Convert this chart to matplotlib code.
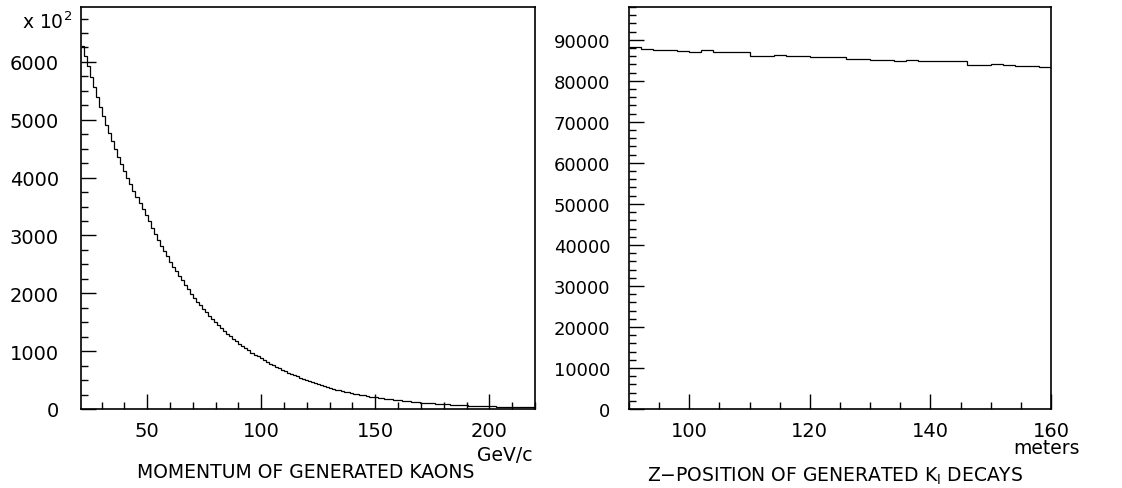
import numpy as np
import matplotlib
matplotlib.use("Agg")
import matplotlib.pyplot as plt
from matplotlib.ticker import MultipleLocator

plt.rcParams["font.family"] = ["DejaVu Sans"]

# momentum histogram (counts shown in units of 10^2), 150 bins from 21 to 220 GeV/c
p_range = (21, 220)
p_nbins = 150
kaon_counts = [
    6280, 6110, 5930, 5740, 5560, 5390, 5220, 5060, 4904,
    4763, 4626, 4493, 4364, 4238, 4116, 3998, 3883, 3771, 3662, 3557, 3455, 3355,
    3242, 3132, 3026, 2924, 2825, 2730, 2638, 2549, 2463, 2380, 2299, 2222,
    2144, 2069, 1996, 1926, 1858, 1793, 1730, 1669, 1610, 1554,
    1499, 1447, 1396, 1347, 1299, 1254, 1210, 1167, 1126, 1087,
    1049, 1012, 976, 942, 909, 877,
    845, 814, 785, 756, 729, 702, 676, 652, 628, 605, 583, 562, 541,
    520, 500, 480, 461, 443, 426, 409, 393, 378, 363,
    349, 335, 322, 310, 297, 286, 275, 264, 254, 244,
    234, 225, 216, 208,
    200, 192, 185, 178, 171, 165, 158, 152, 147, 141,
    136, 130, 125, 121, 116, 112, 107, 103, 99, 96,
    92, 88, 85, 82, 79, 76, 73, 70, 67, 65,
    62, 60, 58, 55, 53, 51, 49, 47,
    45, 44, 42, 41, 39, 38, 36, 35, 34, 33, 31, 30, 29, 28, 27,
]

# z-position histogram, 35 bins of 2 m from 90 to 160 m
z_range = (90, 160)
z_nbins = 35
decay_counts = [
    88200, 87800, 87400, 87400, 87300, 87000, 87600, 87000, 87000, 87100,
    86000, 86000, 86200, 86100, 86000, 85800, 85800, 85900, 85300, 85300,
    85000, 85000, 84800, 85100, 84900, 84800, 84800, 84900, 83800, 83900,
    84000, 83900, 83700, 83600, 83400,
]

W, H = 1122, 489
fig = plt.figure(figsize=(W / 100, H / 100), dpi=100)
ax1 = fig.add_axes([81 / W, 79 / H, 454 / W, 402 / H])
ax2 = fig.add_axes([629 / W, 79 / H, 422 / W, 402 / H])

p_edges = np.linspace(p_range[0], p_range[1], p_nbins + 1)
z_edges = np.linspace(z_range[0], z_range[1], z_nbins + 1)

ax1.stairs(kaon_counts, p_edges, baseline=None, color="black", lw=0.9)
ax2.stairs(decay_counts, z_edges, baseline=None, color="black", lw=0.9)

ax1.set_xlim(*p_range)
ax1.set_ylim(0, 6950)
ax2.set_xlim(*z_range)
ax2.set_ylim(0, 98000)

ax1.xaxis.set_major_locator(MultipleLocator(50))
ax1.xaxis.set_minor_locator(MultipleLocator(10))
ax1.yaxis.set_major_locator(MultipleLocator(1000))
ax1.yaxis.set_minor_locator(MultipleLocator(250))
ax2.xaxis.set_major_locator(MultipleLocator(20))
ax2.xaxis.set_minor_locator(MultipleLocator(5))
ax2.yaxis.set_major_locator(MultipleLocator(10000))
ax2.yaxis.set_minor_locator(MultipleLocator(2000))

for ax, ypad, fs in ((ax1, 16, 14), (ax2, 13.5, 13)):
    for s in ax.spines.values():
        s.set_linewidth(1.2)
    ax.tick_params(which="both", direction="in", top=False, right=False,
                   width=1.0, colors="black")
    ax.tick_params(which="major", length=10.5)
    ax.tick_params(which="minor", length=5)
    ax.tick_params(axis="x", which="major", pad=9, labelsize=14)
    ax.tick_params(axis="y", which="major", pad=ypad, labelsize=fs)

# axis annotations
fig.text(72 / W, 1 - 22 / H, "x 10$^{\\mathregular{2}}$", ha="right", va="center", fontsize=13.5)
fig.text(533 / W, 1 - 456 / H, "GeV/c", ha="right", va="center", fontsize=13.5)
fig.text(306 / W, 1 - 473 / H, "MOMENTUM OF GENERATED KAONS",
         ha="center", va="center", fontsize=13.5)
fig.text(1080 / W, 1 - 449 / H, "meters", ha="right", va="center", fontsize=13.5)
fig.text(835 / W, 1 - 476 / H, "Z\u2212POSITION OF GENERATED K$_{\\mathregular{l}}$ DECAYS",
         ha="center", va="center", fontsize=13.5)

fig.savefig("out.png", dpi=100)
